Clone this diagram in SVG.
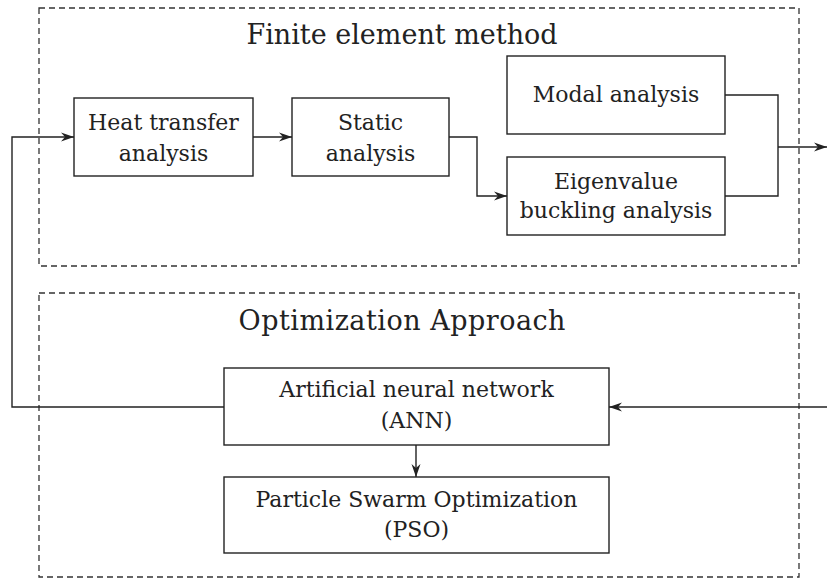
<svg xmlns="http://www.w3.org/2000/svg" width="827" height="581" viewBox="0 0 827 581">
<style>
.grp{fill:none;stroke:#333;stroke-width:1.3;stroke-dasharray:6,4}
.box{fill:#fff;stroke:#222;stroke-width:1.4}
.t{font-family:"DejaVu Serif","Liberation Serif",serif;font-size:22px;fill:#222;text-anchor:middle}
.title{font-family:"DejaVu Serif","Liberation Serif",serif;font-size:27px;fill:#222;text-anchor:middle}
.c{fill:none;stroke:#222;stroke-width:1.4}
</style>
<defs>
<marker id="ah" viewBox="0 0 13 10" refX="13" refY="5" markerWidth="13" markerHeight="10" markerUnits="userSpaceOnUse" orient="auto">
<path d="M0,0.5 L13,5 L0,9.5 L4,5 z" fill="#222"/>
</marker>
</defs>
<g id="group-fem">
<rect class="grp" x="39" y="8" width="760" height="258"/>
<text class="title" x="402" y="44">Finite element method</text>
</g>
<g id="group-opt">
<rect class="grp" x="39" y="293" width="760" height="284"/>
<text class="title" x="402" y="330" textLength="327" lengthAdjust="spacing">Optimization Approach</text>
</g>
<g id="node-heat">
<rect class="box" x="74" y="98" width="179" height="78"/>
<text class="t" x="163.5" y="130">Heat transfer</text>
<text class="t" x="163.5" y="161">analysis</text>
</g>
<g id="node-static">
<rect class="box" x="292" y="98" width="157" height="78"/>
<text class="t" x="370.5" y="130">Static</text>
<text class="t" x="370.5" y="161">analysis</text>
</g>
<g id="node-modal">
<rect class="box" x="507" y="56" width="218" height="78"/>
<text class="t" x="616" y="102">Modal analysis</text>
</g>
<g id="node-eigen">
<rect class="box" x="507" y="157" width="218" height="78"/>
<text class="t" x="616" y="189">Eigenvalue</text>
<text class="t" x="616" y="218">buckling analysis</text>
</g>
<g id="node-ann">
<rect class="box" x="224" y="368" width="385" height="77"/>
<text class="t" x="416.5" y="397">Artificial neural network</text>
<text class="t" x="416.5" y="428">(ANN)</text>
</g>
<g id="node-pso">
<rect class="box" x="224" y="477" width="385" height="76"/>
<text class="t" x="416.5" y="507">Particle Swarm Optimization</text>
<text class="t" x="416.5" y="537">(PSO)</text>
</g>
<g id="connectors">
<path class="c" d="M253,137 H292" marker-end="url(#ah)"/>
<path class="c" d="M449,137 H477 V196 H507" marker-end="url(#ah)"/>
<path class="c" d="M725,95 H778 V196 H725"/>
<path class="c" d="M778,147 H827" marker-end="url(#ah)"/>
<path class="c" d="M224,407 H12 V137 H74" marker-end="url(#ah)"/>
<path class="c" d="M827,407 H609" marker-end="url(#ah)"/>
<path class="c" d="M416,445 V477" marker-end="url(#ah)"/>
</g>
</svg>
